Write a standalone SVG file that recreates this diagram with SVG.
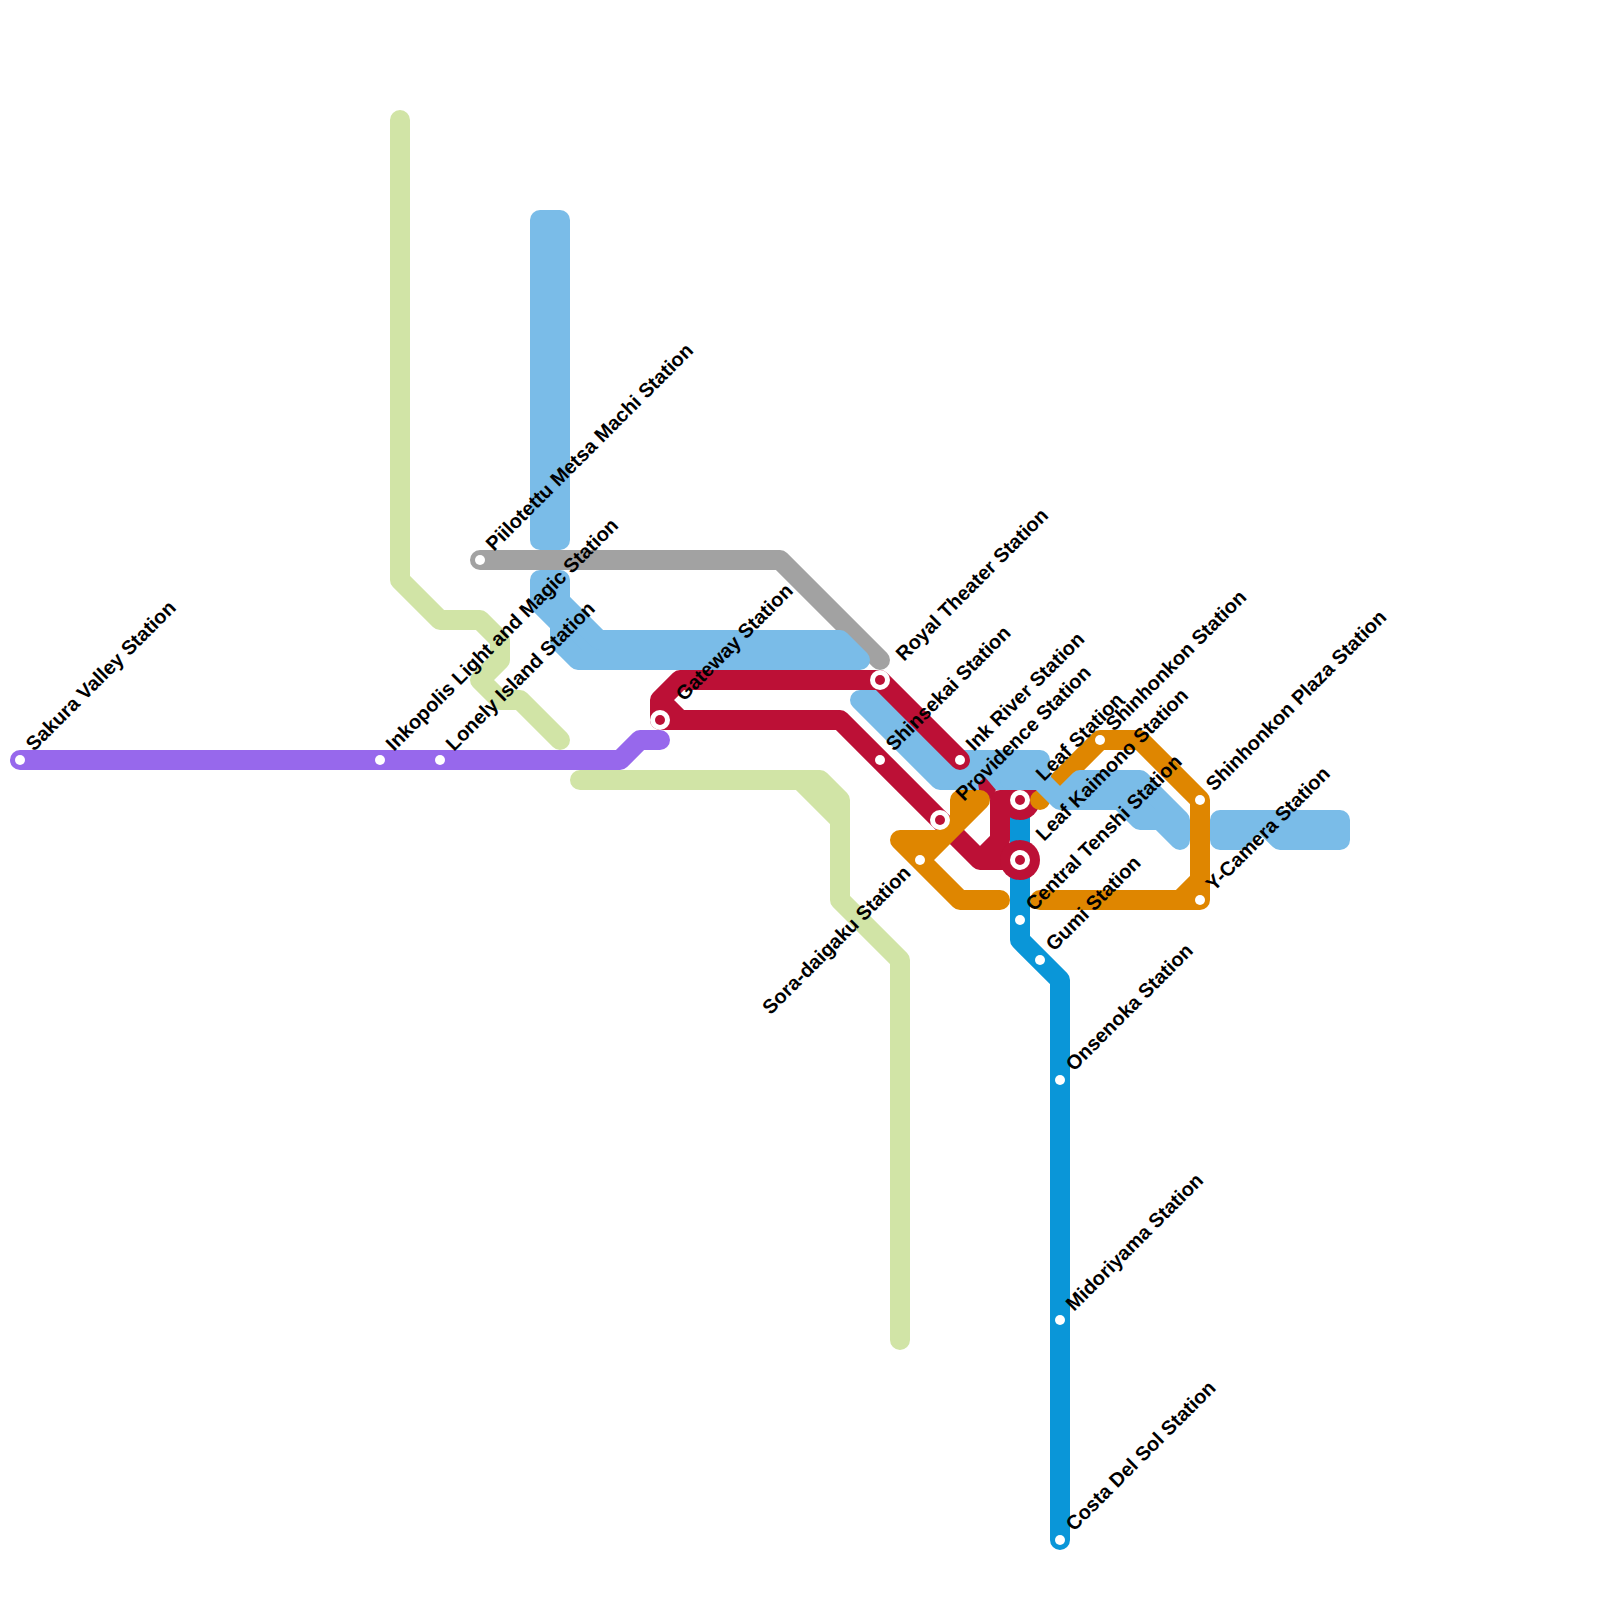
<svg xmlns="http://www.w3.org/2000/svg" width="1600" height="1600" viewBox="0 0 1600 1600">
<style>
.l{fill:none;stroke-width:20;stroke-linecap:round;stroke-linejoin:round}
.g{stroke:#d1e4a6}.y{stroke:#a2a2a2}.p{stroke:#9768ec}.c{stroke:#0a96d8}.r{stroke:#bc1036}.o{stroke:#df8600}
.b{fill:#7abce8;stroke:#7abce8;stroke-width:20;stroke-linejoin:round}
.d{fill:#fff}.i{fill:#bc1036}
text{font-family:"Liberation Sans",Arial,sans-serif;font-weight:700;font-size:20px;fill:#000}
</style>
<rect width="1600" height="1600" fill="#fff"/>
<g id="connectors">
<path class="l g" d="M400 120V580L440 620H480L500 640V660L480 680L500 700H520L560 740"/>
<path class="l g" d="M580 780H820L840 800V900L900 960V1340M800 780L840 820"/>
<path class="l y" d="M480 560H780L880 660"/>
<path class="l p" d="M20 760H620L640 740H660"/>
<path class="l c" d="M1020 800V940L1060 980V1540"/>
<circle cx="1020" cy="800" r="20" fill="#bc1036"/>
<path class="b" d="M540 220H560V540H540Z"/>
<path class="b" d="M540 580H560V601L599 640H840L860 660H578L560 642V624L540 604Z"/>
<path class="b" d="M860 700H880L940 760H1030V780H940Z"/>
<path class="l r" d="M660 720V700L680 680H880L960 760M660 700L680 720M660 720H840L980 860H1020M1000 800V840L980 860M1000 800H1020"/>
<polygon points="978,783 985,777 996,790 990,800 980,796" fill="#bc1036"/>
<circle cx="1020" cy="860" r="20" fill="#bc1036"/>
<path class="l o" d="M980 800L920 860M980 800H960V820L940 840H900L960 900H1000"/>
<path class="l o" d="M1040 900H1200V800L1140 740H1100L1060 780M1180 900L1200 880"/>
<circle cx="1040" cy="800" r="10" fill="#df8600"/>
<path class="b" d="M1010 760H1040V780L1060 800L1080 780H1140L1180 820V840L1160 820H1140L1120 800H1060L1040 780H1010Z"/>
<path class="b" d="M1220 820H1340V840H1280L1260 820L1240 840H1220Z"/>
</g>
<g id="sakura-valley"><circle class="d" cx="20" cy="760" r="5"/><text transform="translate(34 752) rotate(-45)">Sakura Valley Station</text></g>
<g id="inkopolis"><circle class="d" cx="380" cy="760" r="5"/><text transform="translate(394 752) rotate(-45)">Inkopolis Light and Magic Station</text></g>
<g id="lonely-island"><circle class="d" cx="440" cy="760" r="5"/><text transform="translate(454 752) rotate(-45)">Lonely Island Station</text></g>
<g id="piilotetu"><circle class="d" cx="480" cy="560" r="5"/><text transform="translate(494 552) rotate(-45)">Piilotettu Metsa Machi Station</text></g>
<g id="gateway"><circle class="d" cx="660" cy="720" r="10"/><circle class="i" cx="660" cy="720" r="5"/><text transform="translate(684 702) rotate(-45)">Gateway Station</text></g>
<g id="royal-theater"><circle class="d" cx="880" cy="680" r="10"/><circle class="i" cx="880" cy="680" r="5"/><text transform="translate(904 662) rotate(-45)">Royal Theater Station</text></g>
<g id="shinsekai"><circle class="d" cx="880" cy="760" r="5"/><text transform="translate(894 752) rotate(-45)">Shinsekai Station</text></g>
<g id="ink-river"><circle class="d" cx="960" cy="760" r="5"/><text transform="translate(974 752) rotate(-45)">Ink River Station</text></g>
<g id="providence"><circle class="d" cx="940" cy="820" r="10"/><circle class="i" cx="940" cy="820" r="5"/><text transform="translate(964 802) rotate(-45)">Providence Station</text></g>
<g id="leaf"><circle class="d" cx="1020" cy="800" r="10"/><circle class="i" cx="1020" cy="800" r="5"/><text transform="translate(1044 782) rotate(-45)">Leaf Station</text></g>
<g id="leaf-kaimono"><circle class="d" cx="1020" cy="860" r="10"/><circle class="i" cx="1020" cy="860" r="5"/><text transform="translate(1044 842) rotate(-45)">Leaf Kaimono Station</text></g>
<g id="central-tenshi"><circle class="d" cx="1020" cy="920" r="5"/><text transform="translate(1034 912) rotate(-45)">Central Tenshi Station</text></g>
<g id="gumi"><circle class="d" cx="1040" cy="960" r="5"/><text transform="translate(1054 952) rotate(-45)">Gumi Station</text></g>
<g id="onsenoka"><circle class="d" cx="1060" cy="1080" r="5"/><text transform="translate(1074 1072) rotate(-45)">Onsenoka Station</text></g>
<g id="midoriyama"><circle class="d" cx="1060" cy="1320" r="5"/><text transform="translate(1074 1312) rotate(-45)">Midoriyama Station</text></g>
<g id="costa-del-sol"><circle class="d" cx="1060" cy="1540" r="5"/><text transform="translate(1074 1532) rotate(-45)">Costa Del Sol Station</text></g>
<g id="sora-daigaku"><circle class="d" cx="920" cy="860" r="5"/><text text-anchor="end" transform="translate(912 874) rotate(-45)">Sora-daigaku Station</text></g>
<g id="shinhonkon"><circle class="d" cx="1100" cy="740" r="5"/><text transform="translate(1114 732) rotate(-45)">Shinhonkon Station</text></g>
<g id="shinhonkon-plaza"><circle class="d" cx="1200" cy="800" r="5"/><text transform="translate(1214 792) rotate(-45)">Shinhonkon Plaza Station</text></g>
<g id="y-camera"><circle class="d" cx="1200" cy="900" r="5"/><text transform="translate(1214 892) rotate(-45)">Y-Camera Station</text></g>
</svg>
